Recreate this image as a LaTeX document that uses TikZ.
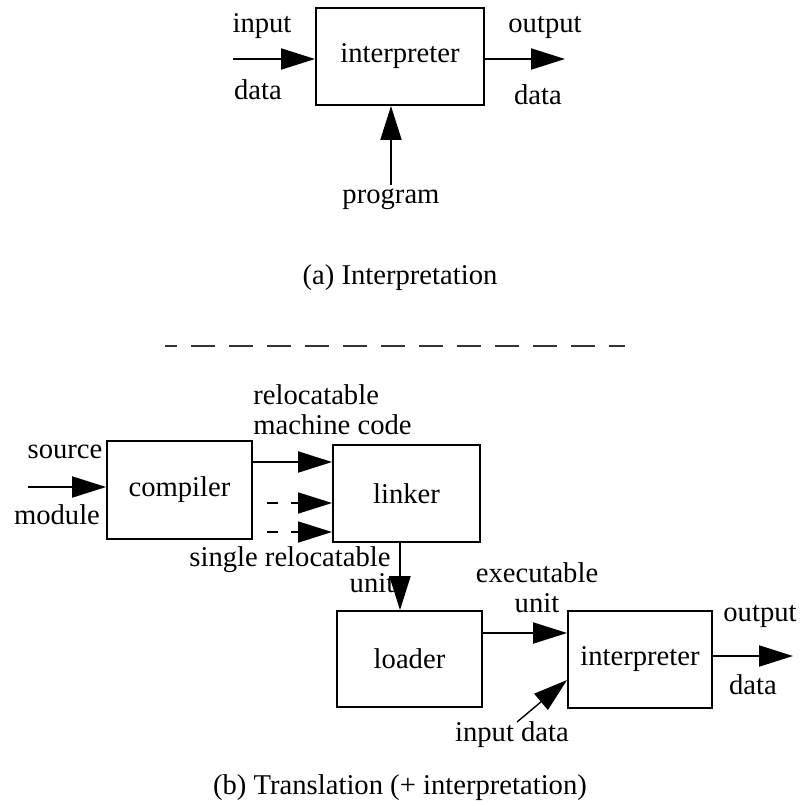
\documentclass[tikz,border=0pt]{standalone}
\usepackage{fontspec}
\setmainfont{Liberation Serif}
\usetikzlibrary{arrows.meta}

\begin{document}
\begin{tikzpicture}[x=0.02cm, y=-0.02cm,
    every node/.style={font=\fontsize{16.3}{17}\selectfont, inner sep=0pt},
    % Styles
    unitbox/.style={draw, line width=1.1pt, minimum width=#1},
    unitbox/.default=2.9cm,
    flow/.style={line width=1.1pt, -{Triangle[length=0.68cm, width=0.42cm]}},
    partial/.style={flow, line width=0.9pt, dash pattern=on 0.22cm off 0.26cm},
    lbl/.style={align=center},
    caption/.style={font=\fontsize{16.3}{17}\selectfont},
]
\useasboundingbox (0,0) rectangle (801,806);

% (a) Interpretation
\node[unitbox=3.36cm, minimum height=1.94cm] (interp) at (400,56.5) {interpreter};
\coordinate (indata) at (233,59);
\coordinate (outdata) at (565,59);
\coordinate (prog) at (391,185);
\draw[flow] (indata) -- (interp.west |- indata);
\draw[flow] (interp.east |- outdata) -- (outdata);
\draw[flow] (prog) -- (interp.south -| prog);
\node (inlbl) at (262,26) {input};
\node (inlbl2) at (258,90) {data};
\node (outlbl) at (545,27) {output};
\node (outlbl2) at (538,95) {data};
\node[below=2pt] (proglbl) at (prog) {program};
\node[caption] (capa) at (400,278) {(a) Interpretation};

% separator
\coordinate (sepl) at (165,346);
\coordinate (sepr) at (625,346);
\draw[black!80, line width=1.3pt, dash pattern=on 0.48cm off 0.28cm, dash phase=0.24cm] (sepl) -- (sepr);

% (b) Translation
\node[unitbox=2.9cm, minimum height=1.96cm] (compiler) at (179.5,490) {compiler};
\node[unitbox=2.94cm, minimum height=1.94cm] (linker) at (406.5,493.5) {linker};
\node[unitbox=2.9cm, minimum height=1.92cm] (loader) at (409.5,659) {loader};
\node[unitbox=2.88cm, minimum height=1.94cm] (interpb) at (640,659.5) {interpreter};

\coordinate (srcin) at (28,487);
\draw[flow] (srcin) -- (compiler.west |- srcin);
\node (srclbl) at (65,452) {source};
\node (srclbl2) at (57,515) {module};

\coordinate (rel) at (252,462);
\draw[flow] (rel) -- (linker.west |- rel);
\node[lbl, anchor=west, align=left] (rellbl) at (253,410) {relocatable\\machine code};

\coordinate (more1) at (267,503);
\coordinate (more2) at (267,532);
\draw[partial] (more1) -- (linker.west |- more1);
\draw[partial] (more2) -- (linker.west |- more2);

\coordinate (lnk) at (400,542);
\draw[flow] (lnk) -- (loader.north -| lnk);
\node (singlelbl) at (290,560) {single relocatable};
\node (unitlbl) at (372,583) {unit};

\coordinate (exe) at (482,633);
\draw[flow] (exe) -- (interpb.west |- exe);
\node[lbl] (exelbl) at (537,588) {executable\\unit};

\coordinate (outb) at (793,656);
\draw[flow] (interpb.east |- outb) -- (outb);
\node (outblbl) at (760,616) {output};
\node (outblbl2) at (753,685) {data};

\coordinate (inb) at (517,722);
\draw[flow, line width=0.8pt] (inb) -- (interpb.west |- 0,680);
\node (inblbl) at (512,735) {input data};

\node[caption] (capb) at (400,788) {(b) Translation (+ interpretation)};
\end{tikzpicture}
\end{document}
